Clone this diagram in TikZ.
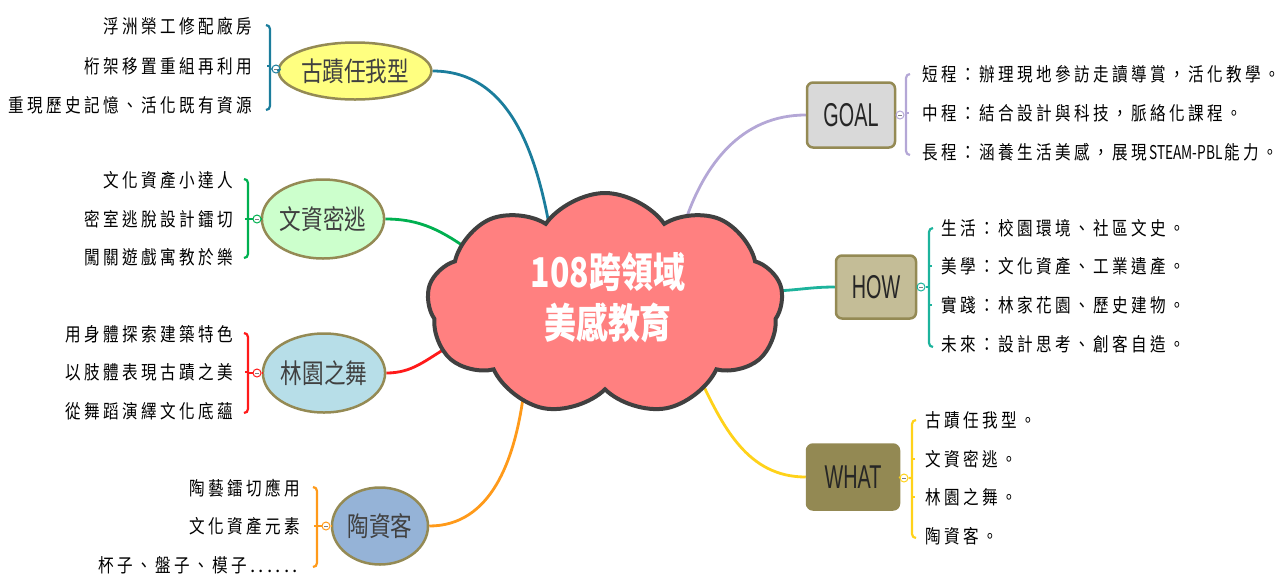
\documentclass[tikz,border=0pt]{standalone}
\usepackage{fontspec}
\usepackage{graphicx}
\usetikzlibrary{shapes.symbols,shapes.geometric,backgrounds}
\setmainfont{Liberation Sans}
\newfontfamily\cjk{Noto Sans CJK TC}
\newlength\cellw \setlength\cellw{19pt}
\def\spc#1{\ifx#1\relax\else\makebox[\cellw]{\scalebox{0.82}[1]{#1}}\expandafter\spc\fi}
\newcommand\dotcell{\makebox[8.5pt]{.}}
\definecolor{cGuji}{HTML}{1B7D9C}
\definecolor{cWen}{HTML}{00B050}
\definecolor{cLin}{HTML}{FF1A1A}
\definecolor{cTao}{HTML}{FF9A1A}
\definecolor{cGoal}{HTML}{B4A7D6}
\definecolor{cHow}{HTML}{1DB39C}
\definecolor{cWhat}{HTML}{FFD21A}
\definecolor{bOlive}{HTML}{948A54}
\definecolor{tGray}{HTML}{404040}
\definecolor{fGuji}{HTML}{FFFF80}
\definecolor{fWen}{HTML}{CCFFCC}
\definecolor{fLin}{HTML}{B7DEE8}
\definecolor{fTao}{HTML}{95B3D7}
\definecolor{fGoal}{HTML}{D9D9D9}
\definecolor{fHow}{HTML}{C4BD97}
\definecolor{fWhat}{HTML}{938953}
\definecolor{cloudFill}{HTML}{FF8080}
\definecolor{cloudEdge}{HTML}{404040}
\newcommand\leftbrc[3]{\draw[brc,#1] ([xshift=-4pt]#2) to[out=0,in=90] ([yshift=-4pt]#2) -- ([yshift=4pt]#3) to[out=-90,in=0] ([xshift=-4pt]#3);}
\newcommand\rightbrc[3]{\draw[brc,#1] ([xshift=4pt]#2) to[out=180,in=90] ([yshift=-4pt]#2) -- ([yshift=4pt]#3) to[out=-90,in=180] ([xshift=4pt]#3);}
\begin{document}
\begin{tikzpicture}[x=1pt,y=-1pt,
  topic/.style={ellipse, draw=bOlive, line width=2.5pt, inner sep=0pt, text=tGray, font=\cjk\fontsize{27}{30}\selectfont},
  boxn/.style={rectangle, rounded corners=6pt, draw=bOlive, line width=2.5pt, inner sep=0pt, text=black!85, font=\fontsize{33}{35}\selectfont},
  leaf/.style={inner sep=0pt, text=black, font=\cjk\fontsize{19}{21}\selectfont},
  conn/.style={line width=2.8pt},
  brc/.style={line width=2.2pt},
  colmark/.style={circle, fill=white, line width=1pt, minimum size=8pt, inner sep=0pt,
    path picture={\draw[gray, line width=0.6pt] ([xshift=-2pt]path picture bounding box.center) -- ([xshift=2pt]path picture bounding box.center);}}
]
\useasboundingbox (0,0) rectangle (1288,574);

% central cloud
\node[cloud, cloud puffs=9, cloud puff arc=110, aspect=1.6, draw=cloudEdge, fill=cloudFill, line width=4pt,
  minimum width=356pt, minimum height=222pt, inner sep=0pt] (core) at (605,304) {};
\node[text=white, align=center, inner sep=0pt, font=\cjk\bfseries\fontsize{41}{51}\selectfont] (coretext) at (608,298)
  {\scalebox{0.78}[1]{108跨領域}\\\scalebox{0.78}[1]{美感教育}};

% ---------- 古蹟任我型 ----------
\node[topic, fill=fGuji, minimum width=144pt, minimum height=57pt] (guji) at (355,71) {\scalebox{0.8}[1]{古蹟任我型}};
\node[colmark, draw=cGuji] (m1) at (276,69) {};
\coordinate (b1t) at (270,25); \coordinate (b1b) at (270,110);
\node[leaf, anchor=east] (l11) at (254,26) {\spc 浮洲榮工修配廠房\relax};
\node[leaf, anchor=east] (l12) at (254,66) {\spc 桁架移置重組再利用\relax};
\node[leaf, anchor=east] (l13) at (254,105) {\spc 重現歷史記憶、活化既有資源\relax};
\leftbrc{cGuji}{b1t}{b1b}
\draw[brc,cGuji] (guji.west) -- (m1.east) (m1.west) -- (b1t |- m1);
\draw[brc,cGuji] (b1t |- l12) -- ++(-3,0);

% ---------- 文資密逃 ----------
\node[topic, fill=fWen, minimum width=120pt, minimum height=79pt] (wen) at (323,219) {\scalebox{0.8}[1]{文資密逃}};
\node[colmark, draw=cWen] (m2) at (257,219) {};
\coordinate (b2t) at (248,179); \coordinate (b2b) at (248,258);
\node[leaf, anchor=east] (l21) at (235,180) {\spc 文化資產小達人\relax};
\node[leaf, anchor=east] (l22) at (235,219) {\spc 密室逃脫設計鐳切\relax};
\node[leaf, anchor=east] (l23) at (235,257) {\spc 闖關遊戲寓教於樂\relax};
\leftbrc{cWen}{b2t}{b2b}
\draw[brc,cWen] (wen.west) -- (m2.east) (m2.west) -- (b2t |- m2);
\draw[brc,cWen] (b2t |- l22) -- ++(-3,0);

% ---------- 林園之舞 ----------
\node[topic, fill=fLin, minimum width=122pt, minimum height=79pt] (lin) at (324,373) {\scalebox{0.8}[1]{林園之舞}};
\node[colmark, draw=cLin] (m3) at (257,373) {};
\coordinate (b3t) at (248,333); \coordinate (b3b) at (248,413);
\node[leaf, anchor=east] (l31) at (235,334) {\spc 用身體探索建築特色\relax};
\node[leaf, anchor=east] (l32) at (235,372) {\spc 以肢體表現古蹟之美\relax};
\node[leaf, anchor=east] (l33) at (235,411) {\spc 從舞蹈演繹文化底蘊\relax};
\leftbrc{cLin}{b3t}{b3b}
\draw[brc,cLin] (lin.west) -- (m3.east) (m3.west) -- (b3t |- m3);
\draw[brc,cLin] (b3t |- l32) -- ++(-3,0);

% ---------- 陶資客 ----------
\node[topic, fill=fTao, minimum width=96pt, minimum height=77pt] (tao) at (380,526) {\scalebox{0.8}[1]{陶資客}};
\node[colmark, draw=cTao] (m4) at (326,526) {};
\coordinate (b4t) at (317,487); \coordinate (b4b) at (317,567);
\node[leaf, anchor=east] (l41) at (302,488) {\spc 陶藝鐳切應用\relax};
\node[leaf, anchor=east] (l42) at (302,526) {\spc 文化資產元素\relax};
\node[leaf, anchor=east] (l43) at (300,565) {\spc 杯子、盤子、模子\relax\dotcell\dotcell\dotcell\dotcell\dotcell\dotcell};
\leftbrc{cTao}{b4t}{b4b}
\draw[brc,cTao] (tao.west) -- (m4.east) (m4.west) -- (b4t |- m4);
\draw[brc,cTao] (b4t |- l42) -- ++(-3,0);

% ---------- GOAL ----------
\node[boxn, fill=fGoal, minimum width=88pt, minimum height=65pt] (goal) at (851,115) {\scalebox{0.6}[1]{GOAL}};
\node[colmark, draw=cGoal] (mg) at (900,115) {};
\coordinate (bgt) at (906,74); \coordinate (bgb) at (906,155);
\node[leaf, anchor=west] (lg1) at (921,74) {\spc 短程：辦理現地參訪走讀導賞，活化教學。\relax};
\node[leaf, anchor=west] (lg2) at (921,113) {\spc 中程：結合設計與科技，脈絡化課程。\relax};
\node[leaf, anchor=west] (lg3) at (921,152) {\spc 長程：涵養生活美感，展現\relax\scalebox{0.72}[1]{STEAM-PBL}\spc 能力。\relax};
\rightbrc{cGoal}{bgt}{bgb}
\draw[brc,cGoal] (goal.east) -- (mg.west) (mg.east) -- (bgt |- mg);
\draw[brc,cGoal] (bgt |- lg2) -- ++(3,0);

% ---------- HOW ----------
\node[boxn, fill=fHow, minimum width=80pt, minimum height=63pt] (how) at (876,287) {\scalebox{0.6}[1]{HOW}};
\node[colmark, draw=cHow] (mh) at (921,287) {};
\coordinate (bht) at (929,228); \coordinate (bhb) at (929,347);
\node[leaf, anchor=west] (lh1) at (940,228) {\spc 生活：校園環境、社區文史。\relax};
\node[leaf, anchor=west] (lh2) at (940,266) {\spc 美學：文化資產、工業遺產。\relax};
\node[leaf, anchor=west] (lh3) at (940,305) {\spc 實踐：林家花園、歷史建物。\relax};
\node[leaf, anchor=west] (lh4) at (940,344) {\spc 未來：設計思考、創客自造。\relax};
\rightbrc{cHow}{bht}{bhb}
\draw[brc,cHow] (how.east) -- (mh.west) (mh.east) -- (bht |- mh);
\draw[brc,cHow] (bht |- lh2) -- ++(3,0) (bht |- lh3) -- ++(3,0);

% ---------- WHAT ----------
\node[boxn, fill=fWhat, draw=fWhat, minimum width=92pt, minimum height=65pt] (what) at (853,477) {\scalebox{0.6}[1]{WHAT}};
\node[colmark, draw=cWhat] (mw) at (904,478) {};
\coordinate (bwt) at (912,420); \coordinate (bwb) at (912,538);
\node[leaf, anchor=west] (lw1) at (924,420) {\spc 古蹟任我型。\relax};
\node[leaf, anchor=west] (lw2) at (924,459) {\spc 文資密逃。\relax};
\node[leaf, anchor=west] (lw3) at (924,497) {\spc 林園之舞。\relax};
\node[leaf, anchor=west] (lw4) at (924,536) {\spc 陶資客。\relax};
\rightbrc{cWhat}{bwt}{bwb}
\draw[brc,cWhat] (what.east) -- (mw.west) (mw.east) -- (bwt |- mw);
\draw[brc,cWhat] (bwt |- lw2) -- ++(3,0) (bwt |- lw3) -- ++(3,0);

% ---------- main connectors ----------
\coordinate (k1) at (551,235);
\coordinate (k2) at (472,252);
\coordinate (k3) at (448,347);
\coordinate (k4) at (523,398);
\coordinate (k5) at (684,225);
\coordinate (k6) at (768,291);
\coordinate (k7) at (698,374);
\begin{scope}[on background layer]
\draw[conn,cGuji] (guji.east) to[out=0,in=100] (k1);
\draw[conn,cWen] (wen.east) to[out=0,in=145] (k2);
\draw[conn,cLin] (lin.east) to[out=0,in=210] (k3);
\draw[conn,cTao] (tao.east) to[out=0,in=262] (k4);
\draw[conn,cGoal] (goal.west) to[out=180,in=72] (k5);
\draw[conn,cHow] (how.west) to[out=180,in=0] (k6);
\draw[conn,cWhat] (what.west) to[out=180,in=295] (k7);
\end{scope}
\end{tikzpicture}
\end{document}
